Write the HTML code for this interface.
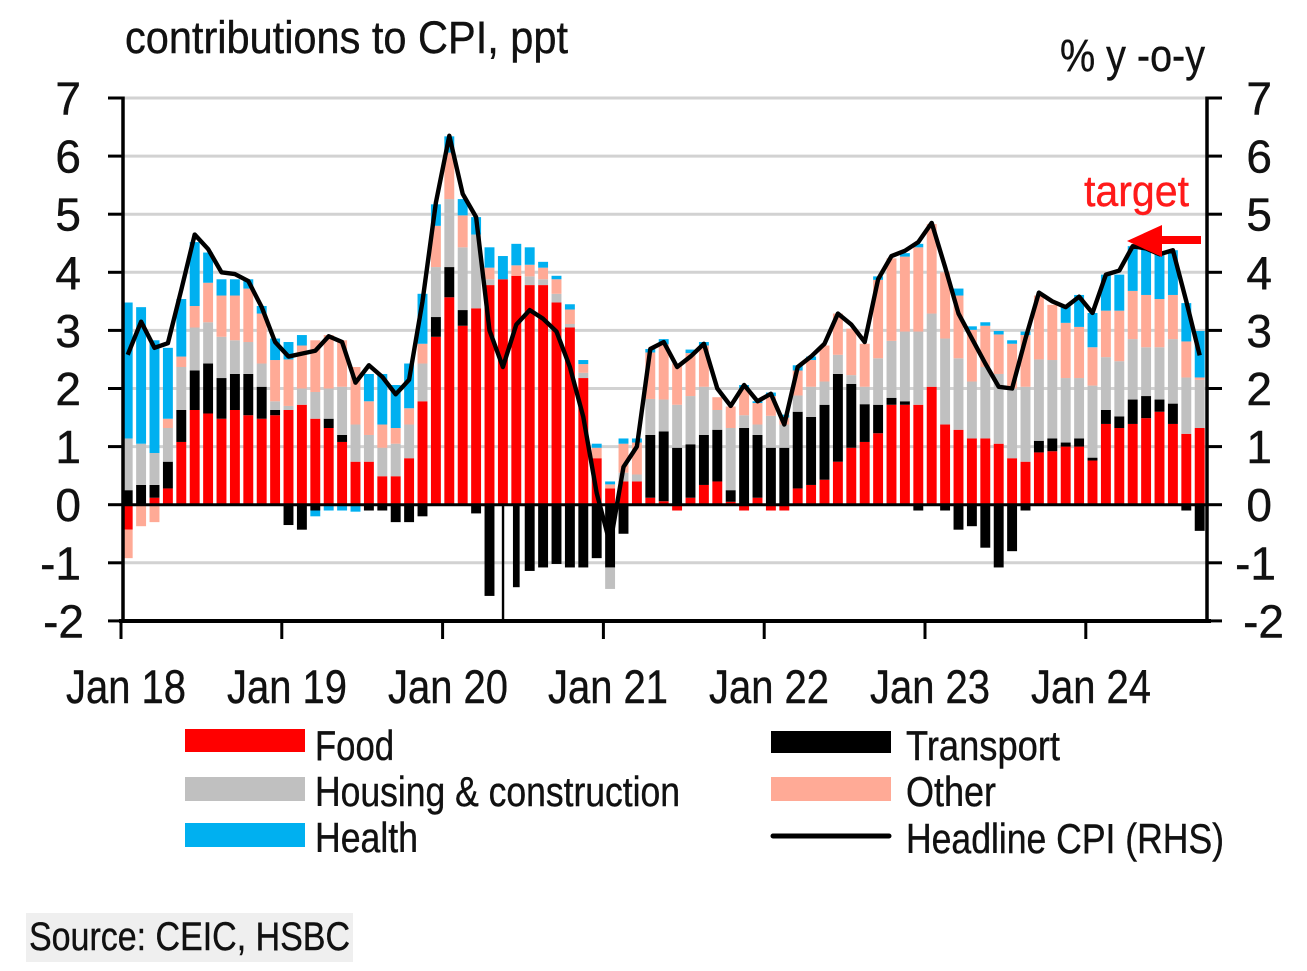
<!DOCTYPE html>
<html><head><meta charset="utf-8"><style>
html,body{margin:0;padding:0;background:#fff;}
svg{display:block;}
text{font-family:"Liberation Sans",Arial,sans-serif;fill:#111;stroke:#111;stroke-width:0.4;}
</style></head><body>
<svg width="1307" height="971" viewBox="0 0 1307 971" xmlns="http://www.w3.org/2000/svg">
<rect width="1307" height="971" fill="#fff"/>
<!-- gridlines -->
<g stroke="#d2d2d2" stroke-width="3">
<line x1="123" y1="98" x2="1207" y2="98"/>
<line x1="123" y1="156.1" x2="1207" y2="156.1"/>
<line x1="123" y1="214.2" x2="1207" y2="214.2"/>
<line x1="123" y1="272.3" x2="1207" y2="272.3"/>
<line x1="123" y1="330.4" x2="1207" y2="330.4"/>
<line x1="123" y1="388.5" x2="1207" y2="388.5"/>
<line x1="123" y1="446.6" x2="1207" y2="446.6"/>
<line x1="123" y1="562.8" x2="1207" y2="562.8"/>
</g>
<g transform="translate(121,504.7) scale(13.4,-58.1)">
<!-- Food -->
<g fill="#ff0000">
<rect x="0.13" y="-0.43" width=".74" height=".43"/>
<rect x="2.13" y="0" width=".74" height=".12"/>
<rect x="3.13" y="0" width=".74" height=".28"/>
<rect x="4.13" y="0" width=".74" height="1.08"/>
<rect x="5.13" y="0" width=".74" height="1.63"/>
<rect x="6.13" y="0" width=".74" height="1.57"/>
<rect x="7.13" y="0" width=".74" height="1.48"/>
<rect x="8.13" y="0" width=".74" height="1.63"/>
<rect x="9.13" y="0" width=".74" height="1.54"/>
<rect x="10.13" y="0" width=".74" height="1.48"/>
<rect x="11.13" y="0" width=".74" height="1.54"/>
<rect x="12.13" y="0" width=".74" height="1.63"/>
<rect x="13.13" y="0" width=".74" height="1.72"/>
<rect x="14.13" y="0" width=".74" height="1.48"/>
<rect x="15.13" y="0" width=".74" height="1.32"/>
<rect x="16.13" y="0" width=".74" height="1.08"/>
<rect x="17.13" y="0" width=".74" height=".74"/>
<rect x="18.13" y="0" width=".74" height=".74"/>
<rect x="19.13" y="0" width=".74" height=".49"/>
<rect x="20.13" y="0" width=".74" height=".49"/>
<rect x="21.13" y="0" width=".74" height=".80"/>
<rect x="22.13" y="0" width=".74" height="1.78"/>
<rect x="23.13" y="0" width=".74" height="2.89"/>
<rect x="24.13" y="0" width=".74" height="3.57"/>
<rect x="25.13" y="0" width=".74" height="3.08"/>
<rect x="26.13" y="0" width=".74" height="3.38"/>
<rect x="27.13" y="0" width=".74" height="3.78"/>
<rect x="28.13" y="0" width=".74" height="3.88"/>
<rect x="29.13" y="0" width=".74" height="3.94"/>
<rect x="30.13" y="0" width=".74" height="3.78"/>
<rect x="31.13" y="0" width=".74" height="3.78"/>
<rect x="32.13" y="0" width=".74" height="3.48"/>
<rect x="33.13" y="0" width=".74" height="3.05"/>
<rect x="34.13" y="0" width=".74" height="2.18"/>
<rect x="35.13" y="0" width=".74" height=".80"/>
<rect x="36.13" y="0" width=".74" height=".28"/>
<rect x="37.13" y="0" width=".74" height=".40"/>
<rect x="38.13" y="0" width=".74" height=".40"/>
<rect x="39.13" y="0" width=".74" height=".12"/>
<rect x="40.13" y="0" width=".74" height=".06"/>
<rect x="41.13" y="-0.1" width=".74" height=".1"/>
<rect x="42.13" y="0" width=".74" height=".12"/>
<rect x="43.13" y="0" width=".74" height=".34"/>
<rect x="44.13" y="0" width=".74" height=".40"/>
<rect x="45.13" y="0" width=".74" height=".05"/>
<rect x="46.13" y="-0.1" width=".74" height=".1"/>
<rect x="47.13" y="0" width=".74" height=".12"/>
<rect x="48.13" y="-0.1" width=".74" height=".1"/>
<rect x="49.13" y="-0.1" width=".74" height=".1"/>
<rect x="50.13" y="0" width=".74" height=".28"/>
<rect x="51.13" y="0" width=".74" height=".34"/>
<rect x="52.13" y="0" width=".74" height=".43"/>
<rect x="53.13" y="0" width=".74" height=".74"/>
<rect x="54.13" y="0" width=".74" height=".98"/>
<rect x="55.13" y="0" width=".74" height="1.08"/>
<rect x="56.13" y="0" width=".74" height="1.23"/>
<rect x="57.13" y="0" width=".74" height="1.72"/>
<rect x="58.13" y="0" width=".74" height="1.72"/>
<rect x="59.13" y="0" width=".74" height="1.72"/>
<rect x="60.13" y="0" width=".74" height="2.03"/>
<rect x="61.13" y="0" width=".74" height="1.38"/>
<rect x="62.13" y="0" width=".74" height="1.29"/>
<rect x="63.13" y="0" width=".74" height="1.14"/>
<rect x="64.13" y="0" width=".74" height="1.14"/>
<rect x="65.13" y="0" width=".74" height="1.05"/>
<rect x="66.13" y="0" width=".74" height=".80"/>
<rect x="67.13" y="0" width=".74" height=".74"/>
<rect x="68.13" y="0" width=".74" height=".90"/>
<rect x="69.13" y="0" width=".74" height=".92"/>
<rect x="70.13" y="0" width=".74" height="1.00"/>
<rect x="71.13" y="0" width=".74" height="1.00"/>
<rect x="72.13" y="0" width=".74" height=".76"/>
<rect x="73.13" y="0" width=".74" height="1.39"/>
<rect x="74.13" y="0" width=".74" height="1.32"/>
<rect x="75.13" y="0" width=".74" height="1.39"/>
<rect x="76.13" y="0" width=".74" height="1.49"/>
<rect x="77.13" y="0" width=".74" height="1.60"/>
<rect x="78.13" y="0" width=".74" height="1.39"/>
<rect x="79.13" y="0" width=".74" height="1.22"/>
<rect x="80.13" y="0" width=".74" height="1.32"/>
</g>
<!-- Transport -->
<g fill="#000">
<rect x="0.13" y="0" width=".74" height=".25"/>
<rect x="1.13" y="0" width=".74" height=".34"/>
<rect x="2.13" y=".12" width=".74" height=".22"/>
<rect x="3.13" y=".28" width=".74" height=".46"/>
<rect x="4.13" y="1.08" width=".74" height=".55"/>
<rect x="5.13" y="1.63" width=".74" height=".68"/>
<rect x="6.13" y="1.57" width=".74" height=".86"/>
<rect x="7.13" y="1.48" width=".74" height=".70"/>
<rect x="8.13" y="1.63" width=".74" height=".62"/>
<rect x="9.13" y="1.54" width=".74" height=".71"/>
<rect x="10.13" y="1.48" width=".74" height=".55"/>
<rect x="11.13" y="1.54" width=".74" height=".09"/>
<rect x="12.13" y="-0.35" width=".74" height=".35"/>
<rect x="13.13" y="-0.43" width=".74" height=".43"/>
<rect x="14.13" y="-0.1" width=".74" height=".1"/>
<rect x="15.13" y="1.32" width=".74" height=".16"/>
<rect x="16.13" y="1.08" width=".74" height=".12"/>
<rect x="18.13" y="-0.1" width=".74" height=".1"/>
<rect x="19.13" y="-0.1" width=".74" height=".1"/>
<rect x="20.13" y="-0.3" width=".74" height=".3"/>
<rect x="21.13" y="-0.3" width=".74" height=".3"/>
<rect x="22.13" y="-0.2" width=".74" height=".2"/>
<rect x="23.13" y="2.89" width=".74" height=".34"/>
<rect x="24.13" y="3.57" width=".74" height=".52"/>
<rect x="25.13" y="3.08" width=".74" height=".27"/>
<rect x="26.13" y="-0.15" width=".74" height=".15"/>
<rect x="27.13" y="-1.57" width=".74" height="1.57"/>
<rect x="28.42" y="-2" width=".18" height="2"/>
<rect x="29.25" y="-1.42" width=".5" height="1.42"/>
<rect x="30.13" y="-1.14" width=".74" height="1.14"/>
<rect x="31.13" y="-1.08" width=".74" height="1.08"/>
<rect x="32.13" y="-1.02" width=".74" height="1.02"/>
<rect x="33.13" y="-1.08" width=".74" height="1.08"/>
<rect x="34.13" y="-1.08" width=".74" height="1.08"/>
<rect x="35.13" y="-0.92" width=".74" height=".92"/>
<rect x="36.13" y="-1.08" width=".74" height="1.08"/>
<rect x="37.13" y="-0.5" width=".74" height=".5"/>
<rect x="39.13" y=".12" width=".74" height="1.08"/>
<rect x="40.13" y=".06" width=".74" height="1.20"/>
<rect x="41.13" y="0" width=".74" height=".98"/>
<rect x="42.13" y=".12" width=".74" height=".92"/>
<rect x="43.13" y=".34" width=".74" height=".86"/>
<rect x="44.13" y=".40" width=".74" height=".89"/>
<rect x="45.13" y=".05" width=".74" height=".20"/>
<rect x="46.13" y="0" width=".74" height="1.32"/>
<rect x="47.13" y=".12" width=".74" height="1.08"/>
<rect x="48.13" y="0" width=".74" height=".98"/>
<rect x="49.13" y="0" width=".74" height=".98"/>
<rect x="50.13" y=".28" width=".74" height="1.32"/>
<rect x="51.13" y=".34" width=".74" height="1.17"/>
<rect x="52.13" y=".43" width=".74" height="1.29"/>
<rect x="53.13" y=".74" width=".74" height="1.51"/>
<rect x="54.13" y=".98" width=".74" height="1.10"/>
<rect x="55.13" y="1.08" width=".74" height=".65"/>
<rect x="56.13" y="1.23" width=".74" height=".49"/>
<rect x="57.13" y="1.72" width=".74" height=".12"/>
<rect x="58.13" y="1.72" width=".74" height=".06"/>
<rect x="59.13" y="-0.1" width=".74" height=".1"/>
<rect x="61.13" y="-0.1" width=".74" height=".1"/>
<rect x="62.13" y="-0.43" width=".74" height=".43"/>
<rect x="63.13" y="-0.37" width=".74" height=".37"/>
<rect x="64.13" y="-0.74" width=".74" height=".74"/>
<rect x="65.13" y="-1.08" width=".74" height="1.08"/>
<rect x="66.13" y="-0.80" width=".74" height=".80"/>
<rect x="67.13" y="-0.1" width=".74" height=".1"/>
<rect x="68.13" y=".90" width=".74" height=".20"/>
<rect x="69.13" y=".92" width=".74" height=".22"/>
<rect x="70.13" y="1.00" width=".74" height=".07"/>
<rect x="71.13" y="1.00" width=".74" height=".14"/>
<rect x="72.13" y=".76" width=".74" height=".05"/>
<rect x="73.13" y="1.39" width=".74" height=".24"/>
<rect x="74.13" y="1.32" width=".74" height=".20"/>
<rect x="75.13" y="1.39" width=".74" height=".42"/>
<rect x="76.13" y="1.49" width=".74" height=".38"/>
<rect x="77.13" y="1.60" width=".74" height=".21"/>
<rect x="78.13" y="1.39" width=".74" height=".35"/>
<rect x="79.13" y="-0.1" width=".74" height=".1"/>
<rect x="80.13" y="-0.45" width=".74" height=".45"/>
</g>
<!-- Housing -->
<g fill="#c0c0c0">
<rect x="0.13" y=".25" width=".74" height=".89"/>
<rect x="1.13" y=".34" width=".74" height=".71"/>
<rect x="2.13" y=".34" width=".74" height=".55"/>
<rect x="3.13" y=".74" width=".74" height=".58"/>
<rect x="4.13" y="1.63" width=".74" height=".74"/>
<rect x="5.13" y="2.31" width=".74" height=".74"/>
<rect x="6.13" y="2.43" width=".74" height=".71"/>
<rect x="7.13" y="2.18" width=".74" height=".71"/>
<rect x="8.13" y="2.25" width=".74" height=".58"/>
<rect x="9.13" y="2.25" width=".74" height=".55"/>
<rect x="10.13" y="2.03" width=".74" height=".40"/>
<rect x="11.13" y="1.63" width=".74" height=".15"/>
<rect x="12.13" y="1.63" width=".74" height=".07"/>
<rect x="13.13" y="1.72" width=".74" height=".28"/>
<rect x="14.13" y="1.48" width=".74" height=".46"/>
<rect x="15.13" y="1.48" width=".74" height=".52"/>
<rect x="16.13" y="1.20" width=".74" height=".83"/>
<rect x="17.13" y=".74" width=".74" height=".64"/>
<rect x="18.13" y=".74" width=".74" height=".46"/>
<rect x="19.13" y=".49" width=".74" height=".49"/>
<rect x="20.13" y=".49" width=".74" height=".56"/>
<rect x="21.13" y=".80" width=".74" height=".58"/>
<rect x="22.13" y="1.78" width=".74" height=".65"/>
<rect x="23.13" y="3.23" width=".74" height=".86"/>
<rect x="24.13" y="4.09" width=".74" height="1.17"/>
<rect x="25.13" y="3.35" width=".74" height="1.08"/>
<rect x="26.13" y="3.38" width=".74" height="1.27"/>
<rect x="27.13" y="3.78" width=".74" height=".10"/>
<rect x="30.13" y="3.78" width=".74" height=".15"/>
<rect x="31.13" y="3.78" width=".74" height=".10"/>
<rect x="32.13" y="3.48" width=".74" height=".15"/>
<rect x="33.13" y="3.05" width=".74" height=".06"/>
<rect x="34.13" y="2.18" width=".74" height=".09"/>
<rect x="36.13" y="-1.45" width=".74" height=".37"/>
<rect x="37.13" y=".40" width=".74" height=".15"/>
<rect x="38.13" y=".40" width=".74" height=".12"/>
<rect x="39.13" y="1.20" width=".74" height=".62"/>
<rect x="40.13" y="1.26" width=".74" height=".55"/>
<rect x="41.13" y=".98" width=".74" height=".74"/>
<rect x="42.13" y="1.04" width=".74" height=".83"/>
<rect x="43.13" y="1.20" width=".74" height=".83"/>
<rect x="44.13" y="1.29" width=".74" height=".34"/>
<rect x="45.13" y=".25" width=".74" height="1.07"/>
<rect x="46.13" y="1.32" width=".74" height=".22"/>
<rect x="47.13" y="1.20" width=".74" height=".18"/>
<rect x="48.13" y=".98" width=".74" height=".55"/>
<rect x="49.13" y=".98" width=".74" height=".40"/>
<rect x="50.13" y="1.60" width=".74" height=".28"/>
<rect x="51.13" y="1.51" width=".74" height=".52"/>
<rect x="52.13" y="1.72" width=".74" height=".40"/>
<rect x="53.13" y="2.25" width=".74" height=".33"/>
<rect x="54.13" y="2.08" width=".74" height=".15"/>
<rect x="55.13" y="1.73" width=".74" height=".30"/>
<rect x="56.13" y="1.72" width=".74" height=".80"/>
<rect x="57.13" y="1.84" width=".74" height=".98"/>
<rect x="58.13" y="1.78" width=".74" height="1.20"/>
<rect x="59.13" y="1.72" width=".74" height="1.26"/>
<rect x="60.13" y="2.03" width=".74" height="1.26"/>
<rect x="61.13" y="1.38" width=".74" height="1.48"/>
<rect x="62.13" y="1.29" width=".74" height="1.23"/>
<rect x="63.13" y="1.14" width=".74" height=".98"/>
<rect x="64.13" y="1.14" width=".74" height="1.23"/>
<rect x="65.13" y="1.05" width=".74" height="1.20"/>
<rect x="66.13" y=".80" width=".74" height="1.20"/>
<rect x="67.13" y=".74" width=".74" height="1.29"/>
<rect x="68.13" y="1.10" width=".74" height="1.40"/>
<rect x="69.13" y="1.14" width=".74" height="1.35"/>
<rect x="70.13" y="1.07" width=".74" height="1.11"/>
<rect x="71.13" y="1.14" width=".74" height="1.04"/>
<rect x="72.13" y=".81" width=".74" height="1.24"/>
<rect x="73.13" y="1.63" width=".74" height=".91"/>
<rect x="74.13" y="1.52" width=".74" height=".95"/>
<rect x="75.13" y="1.81" width=".74" height="1.04"/>
<rect x="76.13" y="1.87" width=".74" height=".84"/>
<rect x="77.13" y="1.81" width=".74" height=".90"/>
<rect x="78.13" y="1.74" width=".74" height="1.11"/>
<rect x="79.13" y="1.22" width=".74" height=".97"/>
<rect x="80.13" y="1.32" width=".74" height=".83"/>
</g>
<!-- Other -->
<g fill="#ffaa96">
<rect x="0.13" y="-0.92" width=".74" height=".49"/>
<rect x="1.13" y="-0.37" width=".74" height=".37"/>
<rect x="2.13" y="-0.30" width=".74" height=".30"/>
<rect x="3.13" y="1.32" width=".74" height=".16"/>
<rect x="4.13" y="2.37" width=".74" height=".18"/>
<rect x="5.13" y="3.05" width=".74" height=".37"/>
<rect x="6.13" y="3.14" width=".74" height=".68"/>
<rect x="7.13" y="2.89" width=".74" height=".71"/>
<rect x="8.13" y="2.83" width=".74" height=".77"/>
<rect x="9.13" y="2.80" width=".74" height=".92"/>
<rect x="10.13" y="2.43" width=".74" height=".86"/>
<rect x="11.13" y="1.78" width=".74" height=".71"/>
<rect x="12.13" y="1.70" width=".74" height=".80"/>
<rect x="13.13" y="2.00" width=".74" height=".74"/>
<rect x="14.13" y="1.94" width=".74" height=".89"/>
<rect x="15.13" y="2.00" width=".74" height=".92"/>
<rect x="16.13" y="2.03" width=".74" height=".80"/>
<rect x="17.13" y="1.38" width=".74" height=".99"/>
<rect x="18.13" y="1.20" width=".74" height=".58"/>
<rect x="19.13" y=".98" width=".74" height=".40"/>
<rect x="20.13" y="1.05" width=".74" height=".27"/>
<rect x="21.13" y="1.38" width=".74" height=".28"/>
<rect x="22.13" y="2.43" width=".74" height=".34"/>
<rect x="23.13" y="4.09" width=".74" height=".71"/>
<rect x="24.13" y="5.26" width=".74" height=".80"/>
<rect x="25.13" y="4.43" width=".74" height=".55"/>
<rect x="27.13" y="3.88" width=".74" height=".20"/>
<rect x="29.13" y="3.94" width=".74" height=".18"/>
<rect x="30.13" y="3.93" width=".74" height=".20"/>
<rect x="31.13" y="3.88" width=".74" height=".20"/>
<rect x="32.13" y="3.63" width=".74" height=".25"/>
<rect x="33.13" y="3.11" width=".74" height=".25"/>
<rect x="34.13" y="2.27" width=".74" height=".15"/>
<rect x="35.13" y=".80" width=".74" height=".18"/>
<rect x="36.13" y=".28" width=".74" height=".07"/>
<rect x="37.13" y=".55" width=".74" height=".50"/>
<rect x="38.13" y=".52" width=".74" height=".55"/>
<rect x="39.13" y="1.82" width=".74" height=".80"/>
<rect x="40.13" y="1.81" width=".74" height=".95"/>
<rect x="41.13" y="1.72" width=".74" height=".71"/>
<rect x="42.13" y="1.87" width=".74" height=".74"/>
<rect x="43.13" y="2.03" width=".74" height=".71"/>
<rect x="44.13" y="1.63" width=".74" height=".22"/>
<rect x="45.13" y="1.32" width=".74" height=".37"/>
<rect x="46.13" y="1.54" width=".74" height=".46"/>
<rect x="47.13" y="1.38" width=".74" height=".37"/>
<rect x="48.13" y="1.53" width=".74" height=".34"/>
<rect x="49.13" y="1.38" width=".74" height=".12"/>
<rect x="50.13" y="1.88" width=".74" height=".43"/>
<rect x="51.13" y="2.03" width=".74" height=".46"/>
<rect x="52.13" y="2.12" width=".74" height=".62"/>
<rect x="53.13" y="2.58" width=".74" height=".71"/>
<rect x="54.13" y="2.23" width=".74" height=".80"/>
<rect x="55.13" y="2.03" width=".74" height=".74"/>
<rect x="56.13" y="2.52" width=".74" height="1.35"/>
<rect x="57.13" y="2.82" width=".74" height="1.42"/>
<rect x="58.13" y="2.98" width=".74" height="1.29"/>
<rect x="59.13" y="2.98" width=".74" height="1.45"/>
<rect x="60.13" y="3.29" width=".74" height="1.54"/>
<rect x="61.13" y="2.86" width=".74" height="1.14"/>
<rect x="62.13" y="2.52" width=".74" height="1.08"/>
<rect x="63.13" y="2.12" width=".74" height=".89"/>
<rect x="64.13" y="2.37" width=".74" height=".71"/>
<rect x="65.13" y="2.25" width=".74" height=".68"/>
<rect x="66.13" y="2.00" width=".74" height=".77"/>
<rect x="67.13" y="2.03" width=".74" height=".89"/>
<rect x="68.13" y="2.50" width=".74" height="1.10"/>
<rect x="69.13" y="2.49" width=".74" height=".95"/>
<rect x="70.13" y="2.18" width=".74" height=".95"/>
<rect x="71.13" y="2.18" width=".74" height=".88"/>
<rect x="72.13" y="2.05" width=".74" height=".66"/>
<rect x="73.13" y="2.54" width=".74" height=".80"/>
<rect x="74.13" y="2.47" width=".74" height=".87"/>
<rect x="75.13" y="2.85" width=".74" height=".83"/>
<rect x="76.13" y="2.71" width=".74" height=".90"/>
<rect x="77.13" y="2.71" width=".74" height=".83"/>
<rect x="78.13" y="2.85" width=".74" height=".76"/>
<rect x="79.13" y="2.19" width=".74" height=".62"/>
<rect x="80.13" y="2.15" width=".74" height=".04"/>
</g>
<!-- Health -->
<g fill="#00b0f0">
<rect x="0.13" y="1.14" width=".74" height="2.34"/>
<rect x="1.13" y="1.05" width=".74" height="2.35"/>
<rect x="2.13" y=".89" width=".74" height="1.94"/>
<rect x="3.13" y="1.48" width=".74" height="1.22"/>
<rect x="4.13" y="2.55" width=".74" height=".99"/>
<rect x="5.13" y="3.42" width=".74" height="1.10"/>
<rect x="6.13" y="3.82" width=".74" height=".52"/>
<rect x="7.13" y="3.60" width=".74" height=".28"/>
<rect x="8.13" y="3.60" width=".74" height=".28"/>
<rect x="9.13" y="3.72" width=".74" height=".16"/>
<rect x="10.13" y="3.29" width=".74" height=".13"/>
<rect x="11.13" y="2.49" width=".74" height=".37"/>
<rect x="12.13" y="2.50" width=".74" height=".30"/>
<rect x="13.13" y="2.74" width=".74" height=".18"/>
<rect x="14.13" y="-0.2" width=".74" height=".1"/>
<rect x="15.13" y="-0.1" width=".74" height=".1"/>
<rect x="16.13" y="-0.1" width=".74" height=".1"/>
<rect x="17.13" y="-0.12" width=".74" height=".12"/>
<rect x="18.13" y="1.78" width=".74" height=".47"/>
<rect x="19.13" y="1.38" width=".74" height=".87"/>
<rect x="20.13" y="1.32" width=".74" height=".74"/>
<rect x="21.13" y="1.66" width=".74" height=".77"/>
<rect x="22.13" y="2.77" width=".74" height=".86"/>
<rect x="23.13" y="4.80" width=".74" height=".37"/>
<rect x="24.13" y="6.06" width=".74" height=".28"/>
<rect x="25.13" y="4.98" width=".74" height=".28"/>
<rect x="26.13" y="4.65" width=".74" height=".30"/>
<rect x="27.13" y="4.08" width=".74" height=".35"/>
<rect x="28.13" y="3.88" width=".74" height=".40"/>
<rect x="29.13" y="4.12" width=".74" height=".37"/>
<rect x="30.13" y="4.13" width=".74" height=".30"/>
<rect x="31.13" y="4.08" width=".74" height=".10"/>
<rect x="32.13" y="3.88" width=".74" height=".06"/>
<rect x="33.13" y="3.36" width=".74" height=".09"/>
<rect x="34.13" y="2.42" width=".74" height=".07"/>
<rect x="35.13" y=".98" width=".74" height=".07"/>
<rect x="36.13" y=".35" width=".74" height=".05"/>
<rect x="37.13" y="1.05" width=".74" height=".09"/>
<rect x="38.13" y="1.07" width=".74" height=".07"/>
<rect x="39.13" y="2.62" width=".74" height=".06"/>
<rect x="40.13" y="2.76" width=".74" height=".09"/>
<rect x="42.13" y="2.61" width=".74" height=".06"/>
<rect x="43.13" y="2.74" width=".74" height=".06"/>
<rect x="46.13" y="2.00" width=".74" height=".06"/>
<rect x="47.13" y="1.75" width=".74" height=".03"/>
<rect x="48.13" y="1.87" width=".74" height=".06"/>
<rect x="49.13" y="1.50" width=".74" height=".05"/>
<rect x="50.13" y="2.31" width=".74" height=".09"/>
<rect x="51.13" y="2.49" width=".74" height=".06"/>
<rect x="56.13" y="3.87" width=".74" height=".06"/>
<rect x="58.13" y="4.27" width=".74" height=".06"/>
<rect x="59.13" y="4.43" width=".74" height=".06"/>
<rect x="62.13" y="3.60" width=".74" height=".12"/>
<rect x="63.13" y="3.01" width=".74" height=".06"/>
<rect x="64.13" y="3.08" width=".74" height=".06"/>
<rect x="65.13" y="2.93" width=".74" height=".06"/>
<rect x="66.13" y="2.77" width=".74" height=".06"/>
<rect x="67.13" y="2.92" width=".74" height=".06"/>
<rect x="70.13" y="3.13" width=".74" height=".31"/>
<rect x="71.13" y="3.06" width=".74" height=".55"/>
<rect x="72.13" y="2.71" width=".74" height=".59"/>
<rect x="73.13" y="3.34" width=".74" height=".62"/>
<rect x="74.13" y="3.34" width=".74" height=".62"/>
<rect x="75.13" y="3.68" width=".74" height=".77"/>
<rect x="76.13" y="3.61" width=".74" height=".84"/>
<rect x="77.13" y="3.54" width=".74" height=".77"/>
<rect x="78.13" y="3.61" width=".74" height=".77"/>
<rect x="79.13" y="2.81" width=".74" height=".66"/>
<rect x="80.13" y="2.19" width=".74" height=".80"/>
</g>
</g>
<!-- zero line -->
<line x1="123" y1="504.7" x2="1207" y2="504.7" stroke="#000" stroke-width="3"/>
<!-- CPI line -->
<g transform="translate(121,504.7) scale(13.4,-58.1)">
<polyline fill="none" stroke="#000" stroke-width="4.4" stroke-linejoin="round" vector-effect="non-scaling-stroke" points="0.5,2.58 1.5,3.15 2.5,2.7 3.5,2.78 4.5,3.7 5.5,4.65 6.5,4.4 7.5,4.0 8.5,3.97 9.5,3.85 10.5,3.4 11.5,2.8 12.5,2.55 13.5,2.6 14.5,2.65 15.5,2.9 16.5,2.8 17.5,2.1 18.5,2.4 19.5,2.2 20.5,1.9 21.5,2.15 22.5,3.5 23.5,5.2 24.5,6.35 25.5,5.35 26.5,4.95 27.5,3.0 28.5,2.37 29.5,3.1 30.5,3.35 31.5,3.2 32.5,2.98 33.5,2.37 34.5,1.51 35.5,0.2 36.5,-0.68 37.5,0.65 38.5,1.0 39.5,2.68 40.5,2.8 41.5,2.37 42.5,2.55 43.5,2.77 44.5,2.0 45.5,1.7 46.5,2.06 47.5,1.78 48.5,1.91 49.5,1.38 50.5,2.37 51.5,2.55 52.5,2.77 53.5,3.29 54.5,3.1 55.5,2.8 56.5,3.88 57.5,4.28 58.5,4.37 59.5,4.52 60.5,4.85 61.5,4.09 62.5,3.29 63.5,2.86 64.5,2.43 65.5,2.03 66.5,2.0 67.5,2.86 68.5,3.65 69.5,3.5 70.5,3.4 71.5,3.58 72.5,3.3 73.5,3.96 74.5,4.03 75.5,4.45 76.5,4.41 77.5,4.31 78.5,4.38 79.5,3.5 80.5,2.57"/>
</g>
<!-- axes -->
<g stroke="#000" stroke-width="3.5" fill="none">
<line x1="123" y1="96.5" x2="123" y2="622.5"/>
<line x1="1207" y1="96.5" x2="1207" y2="622.5"/>
<line x1="119" y1="621" x2="1211" y2="621" stroke-width="4"/>
</g>
<g stroke="#000" stroke-width="3">
<line x1="108" y1="98" x2="123" y2="98"/><line x1="108" y1="156.1" x2="123" y2="156.1"/>
<line x1="108" y1="214.2" x2="123" y2="214.2"/><line x1="108" y1="272.3" x2="123" y2="272.3"/>
<line x1="108" y1="330.4" x2="123" y2="330.4"/><line x1="108" y1="388.5" x2="123" y2="388.5"/>
<line x1="108" y1="446.6" x2="123" y2="446.6"/><line x1="108" y1="504.7" x2="123" y2="504.7"/>
<line x1="108" y1="562.8" x2="123" y2="562.8"/><line x1="108" y1="620.9" x2="123" y2="620.9"/>
<line x1="1207" y1="98" x2="1222" y2="98"/><line x1="1207" y1="156.1" x2="1222" y2="156.1"/>
<line x1="1207" y1="214.2" x2="1222" y2="214.2"/><line x1="1207" y1="272.3" x2="1222" y2="272.3"/>
<line x1="1207" y1="330.4" x2="1222" y2="330.4"/><line x1="1207" y1="388.5" x2="1222" y2="388.5"/>
<line x1="1207" y1="446.6" x2="1222" y2="446.6"/><line x1="1207" y1="504.7" x2="1222" y2="504.7"/>
<line x1="1207" y1="562.8" x2="1222" y2="562.8"/><line x1="1207" y1="620.9" x2="1222" y2="620.9"/>
<line x1="121" y1="621" x2="121" y2="639"/><line x1="281.8" y1="621" x2="281.8" y2="639"/>
<line x1="442.6" y1="621" x2="442.6" y2="639"/><line x1="603.4" y1="621" x2="603.4" y2="639"/>
<line x1="764.2" y1="621" x2="764.2" y2="639"/><line x1="925" y1="621" x2="925" y2="639"/>
<line x1="1085.8" y1="621" x2="1085.8" y2="639"/>
</g>
<!-- y labels left -->
<g font-size="46" text-anchor="end">
<text x="81" y="114.5">7</text><text x="81" y="172.6">6</text><text x="81" y="230.7">5</text>
<text x="81" y="288.8">4</text><text x="81" y="346.9">3</text><text x="81" y="405">2</text>
<text x="81" y="463.1">1</text><text x="81" y="521.2">0</text><text x="81" y="579.3">-1</text>
<text x="84" y="637.4">-2</text>
</g>
<g font-size="46" text-anchor="end">
<text x="1272" y="114.5">7</text><text x="1272" y="172.6">6</text><text x="1272" y="230.7">5</text>
<text x="1272" y="288.8">4</text><text x="1272" y="346.9">3</text><text x="1272" y="405">2</text>
<text x="1272" y="463.1">1</text><text x="1272" y="521.2">0</text><text x="1276" y="579.3">-1</text>
<text x="1284" y="637.4">-2</text>
</g>
<!-- x labels -->
<g font-size="47" text-anchor="middle">
<text x="126" y="703" textLength="120" lengthAdjust="spacingAndGlyphs">Jan 18</text>
<text x="287" y="703" textLength="120" lengthAdjust="spacingAndGlyphs">Jan 19</text>
<text x="448" y="703" textLength="120" lengthAdjust="spacingAndGlyphs">Jan 20</text>
<text x="608" y="703" textLength="120" lengthAdjust="spacingAndGlyphs">Jan 21</text>
<text x="769" y="703" textLength="120" lengthAdjust="spacingAndGlyphs">Jan 22</text>
<text x="930" y="703" textLength="120" lengthAdjust="spacingAndGlyphs">Jan 23</text>
<text x="1091" y="703" textLength="120" lengthAdjust="spacingAndGlyphs">Jan 24</text>
</g>
<!-- titles -->
<text x="125" y="53" font-size="45" textLength="443" lengthAdjust="spacingAndGlyphs">contributions to CPI, ppt</text>
<text x="1060" y="71" font-size="45" textLength="145" lengthAdjust="spacingAndGlyphs">% y -o-y</text>
<!-- target annotation -->
<text x="1084" y="206" font-size="44" style="fill:#ff1a1a;stroke:#ff1a1a" textLength="105" lengthAdjust="spacingAndGlyphs">target</text>
<line x1="1158" y1="240" x2="1201" y2="240" stroke="#ff0000" stroke-width="8"/>
<polygon points="1127,241 1162,225 1162,257" fill="#ff0000"/>
<!-- legend -->
<rect x="185" y="729" width="120" height="23" fill="#ff0000"/>
<rect x="185" y="777" width="120" height="24" fill="#c0c0c0"/>
<rect x="185" y="823" width="120" height="24" fill="#00b0f0"/>
<rect x="771" y="731" width="120" height="22" fill="#000"/>
<rect x="771" y="777" width="120" height="24" fill="#ffaa96"/>
<line x1="773" y1="836" x2="889" y2="836" stroke="#000" stroke-width="5" stroke-linecap="round"/>
<g font-size="42">
<text x="315" y="760" textLength="79" lengthAdjust="spacingAndGlyphs">Food</text>
<text x="315" y="806" textLength="365" lengthAdjust="spacingAndGlyphs">Housing &amp; construction</text>
<text x="315" y="852" textLength="103" lengthAdjust="spacingAndGlyphs">Health</text>
<text x="906" y="760" textLength="154" lengthAdjust="spacingAndGlyphs">Transport</text>
<text x="906" y="806" textLength="90" lengthAdjust="spacingAndGlyphs">Other</text>
<text x="906" y="853" textLength="318" lengthAdjust="spacingAndGlyphs">Headline CPI (RHS)</text>
</g>
<!-- source -->
<rect x="26" y="913" width="327" height="49" fill="#efefef"/>
<text x="29" y="950" font-size="40" textLength="321" lengthAdjust="spacingAndGlyphs">Source: CEIC, HSBC</text>
</svg>
</body></html>
